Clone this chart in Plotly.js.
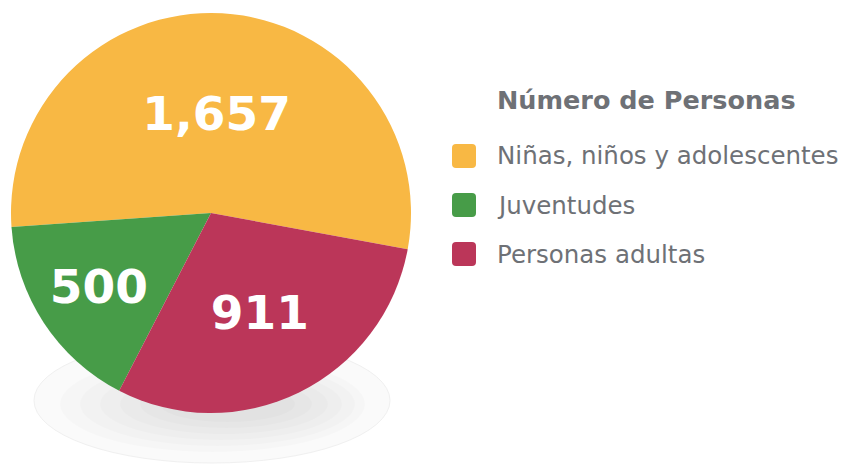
<!DOCTYPE html>
<html>
<head>
<meta charset="utf-8">
<script src="https://cdn.plot.ly/plotly-3.0.1.min.js"></script>
<style>html,body{margin:0;padding:0;background:#fff;}#chart{width:842px;height:464px;}</style>
</head>
<body>
<div id="chart"></div>
<script>
const labels = ["Niñas, niños y adolescentes", "Juventudes", "Personas adultas"];
const values = [1657, 500, 911];
const colors = ["#F8B844", "#479C48", "#BB3659"];
const legendTitle = "Número de Personas";

const W = 842, H = 464;
const px = x => x / W;
const py = y => (H - y) / H;

const pie = {
  type: "pie",
  labels: labels,
  values: values,
  sort: false,
  direction: "counterclockwise",
  rotation: -94,
  marker: { colors: colors, line: { width: 0 } },
  texttemplate: "%{value:,}",
  textposition: "inside",
  insidetextorientation: "horizontal",
  textfont: { family: "DejaVu Sans", size: 47, color: "#ffffff", weight: 700 },
  hoverinfo: "label+value",
  domain: { x: [px(11), px(411)], y: [py(413), py(13)] },
  showlegend: false
};

const shapes = [
  { type: "circle", xref: "paper", yref: "paper", layer: "below",
    x0: px(34), x1: px(390), y0: py(463), y1: py(338),
    fillcolor: "#fafafa", line: { color: "#f0f0f0", width: 1 } }
];
const shadowSteps = [[60, 365, 452, 356], [80, 355, 446, 362], [100, 342, 440, 368],
                     [120, 328, 434, 374], [140, 312, 428, 380], [160, 295, 422, 386]];
shadowSteps.forEach(s => shapes.push({ type: "circle", xref: "paper", yref: "paper", layer: "below",
  x0: px(s[0]), x1: px(s[1]), y0: py(s[2]), y1: py(s[3]),
  fillcolor: "rgba(0,0,0,0.014)", line: { width: 0 } }));

const annotations = [
  { xref: "paper", yref: "paper", x: px(495), y: py(100), xanchor: "left", yanchor: "middle",
    text: "<b>" + legendTitle + "</b>", showarrow: false,
    font: { family: "DejaVu Sans", size: 25.5, color: "#6E7176" } }
];

const rowY = [156, 205, 254];
const sq = "M-8,-12 L8,-12 Q12,-12 12,-8 L12,8 Q12,12 8,12 L-8,12 Q-12,12 -12,8 L-12,-8 Q-12,-12 -8,-12 Z";
labels.forEach((lab, i) => {
  shapes.push({ type: "path", xref: "paper", yref: "paper",
    xsizemode: "pixel", ysizemode: "pixel", xanchor: px(464), yanchor: py(rowY[i]),
    path: sq, fillcolor: colors[i], line: { width: 0 } });
  annotations.push({ xref: "paper", yref: "paper", x: px(495), y: py(rowY[i]),
    xanchor: "left", yanchor: "middle", text: lab, showarrow: false,
    font: { family: "DejaVu Sans", size: 24.5, color: "#6E7176" } });
});

const layout = {
  width: W, height: H,
  margin: { l: 0, r: 0, t: 0, b: 0 },
  paper_bgcolor: "#ffffff",
  showlegend: false,
  shapes: shapes,
  annotations: annotations
};

Plotly.newPlot("chart", [pie], layout, { displayModeBar: false, staticPlot: true });
</script>
</body>
</html>
